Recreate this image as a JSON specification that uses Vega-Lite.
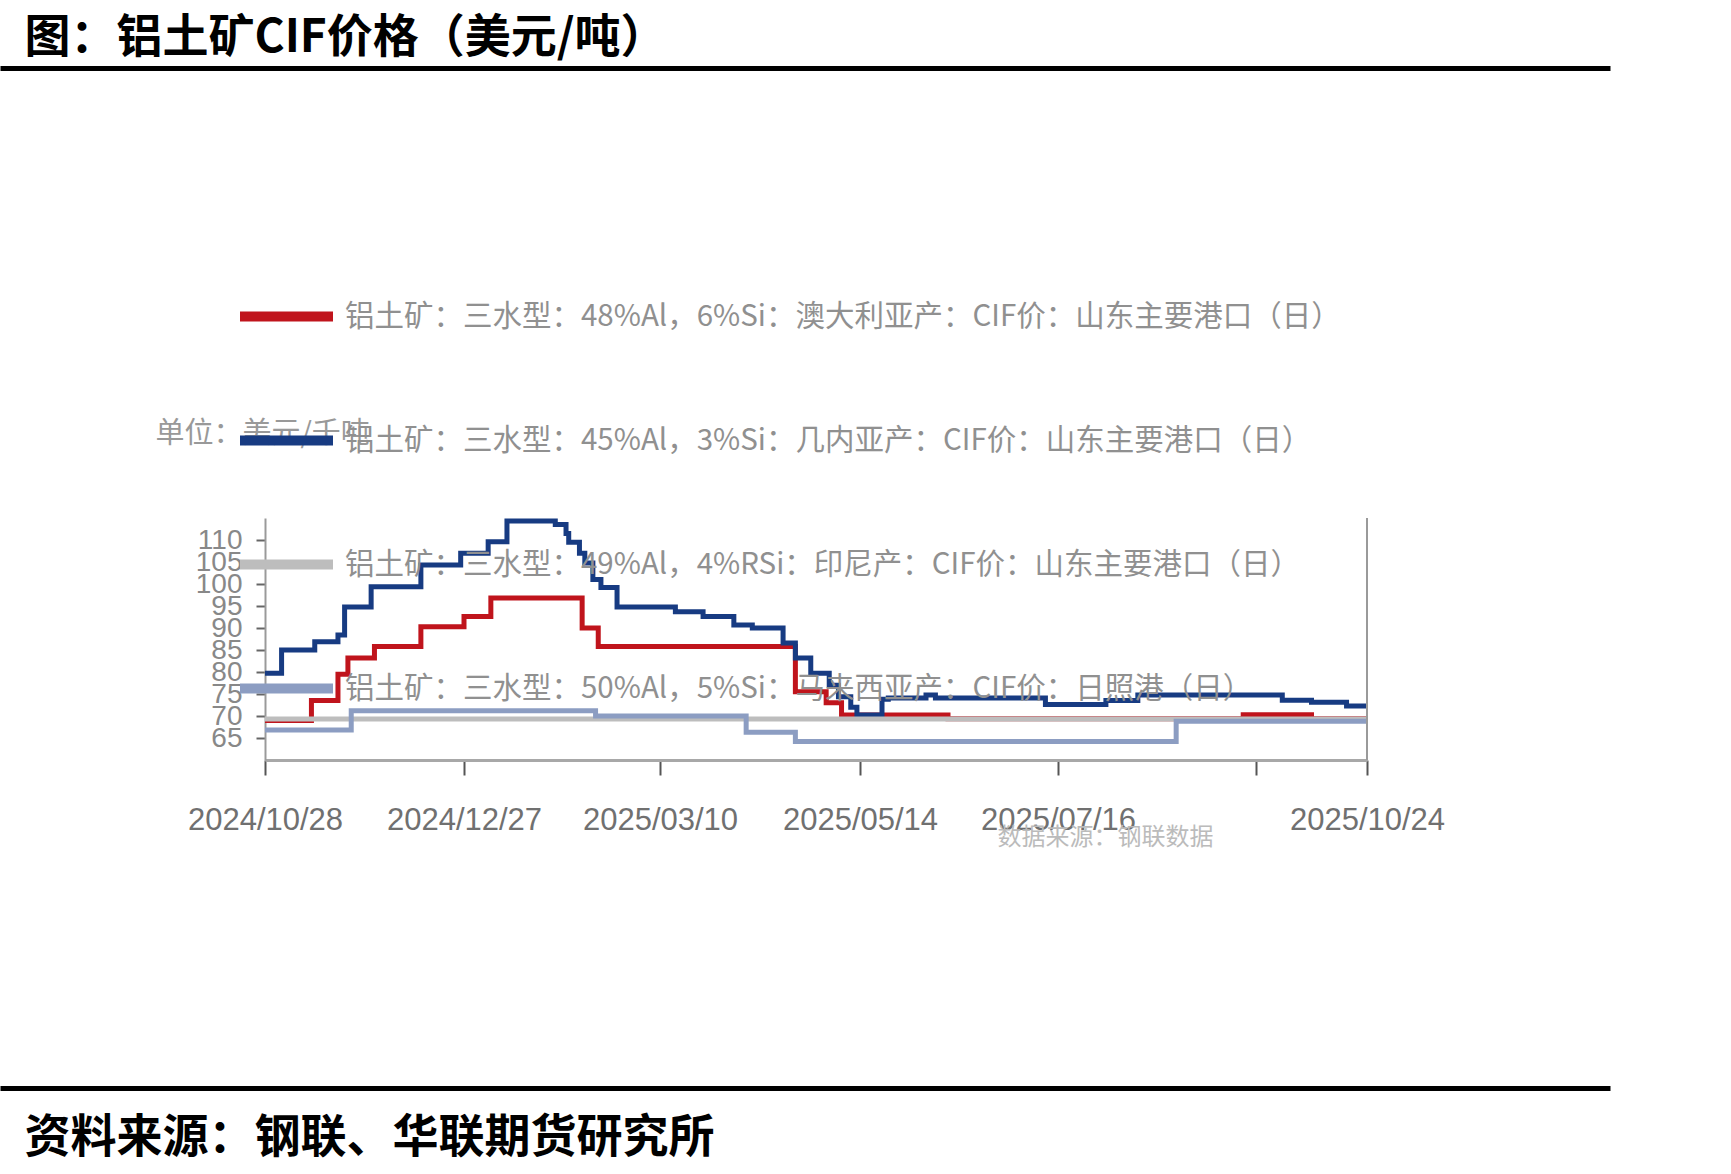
{
  "$schema": "https://vega.github.io/schema/vega-lite/v6.json",
  "autosize": {"type": "none"},
  "padding": {"left": 265, "top": 518, "right": 364, "bottom": 414},
  "width": 1102,
  "height": 242,
  "background": "white",
  "config": {"view": {"stroke": null}, "font": "Noto Sans CJK SC"},
  "resolve": {"scale": {"x": "independent"}, "axis": {"x": "independent", "y": "independent"}},
  "layer": [
    {
      "data": {"values": [
        {"series": "铝土矿：三水型：48%Al，6%Si：澳大利亚产：CIF价：山东主要港口（日）", "date": "2024-10-28", "price": 69.0},
        {"series": "铝土矿：三水型：48%Al，6%Si：澳大利亚产：CIF价：山东主要港口（日）", "date": "2024-11-11", "price": 73.5},
        {"series": "铝土矿：三水型：48%Al，6%Si：澳大利亚产：CIF价：山东主要港口（日）", "date": "2024-11-19", "price": 79.5},
        {"series": "铝土矿：三水型：48%Al，6%Si：澳大利亚产：CIF价：山东主要港口（日）", "date": "2024-11-22", "price": 83.2},
        {"series": "铝土矿：三水型：48%Al，6%Si：澳大利亚产：CIF价：山东主要港口（日）", "date": "2024-11-30", "price": 85.8},
        {"series": "铝土矿：三水型：48%Al，6%Si：澳大利亚产：CIF价：山东主要港口（日）", "date": "2024-12-14", "price": 90.3},
        {"series": "铝土矿：三水型：48%Al，6%Si：澳大利亚产：CIF价：山东主要港口（日）", "date": "2024-12-27", "price": 92.6},
        {"series": "铝土矿：三水型：48%Al，6%Si：澳大利亚产：CIF价：山东主要港口（日）", "date": "2025-01-06", "price": 96.8},
        {"series": "铝土矿：三水型：48%Al，6%Si：澳大利亚产：CIF价：山东主要港口（日）", "date": "2025-02-09", "price": 90.0},
        {"series": "铝土矿：三水型：48%Al，6%Si：澳大利亚产：CIF价：山东主要港口（日）", "date": "2025-02-15", "price": 85.8},
        {"series": "铝土矿：三水型：48%Al，6%Si：澳大利亚产：CIF价：山东主要港口（日）", "date": "2025-04-23", "price": 75.5},
        {"series": "铝土矿：三水型：48%Al，6%Si：澳大利亚产：CIF价：山东主要港口（日）", "date": "2025-05-03", "price": 73.0},
        {"series": "铝土矿：三水型：48%Al，6%Si：澳大利亚产：CIF价：山东主要港口（日）", "date": "2025-05-08", "price": 70.2},
        {"series": "铝土矿：三水型：48%Al，6%Si：澳大利亚产：CIF价：山东主要港口（日）", "date": "2025-06-11", "price": 69.4},
        {"series": "铝土矿：三水型：48%Al，6%Si：澳大利亚产：CIF价：山东主要港口（日）", "date": "2025-09-12", "price": 70.3},
        {"series": "铝土矿：三水型：48%Al，6%Si：澳大利亚产：CIF价：山东主要港口（日）", "date": "2025-10-05", "price": 69.4},
        {"series": "铝土矿：三水型：48%Al，6%Si：澳大利亚产：CIF价：山东主要港口（日）", "date": "2025-10-24", "price": 69.4},

        {"series": "铝土矿：三水型：45%Al，3%Si：几内亚产：CIF价：山东主要港口（日）", "date": "2024-10-28", "price": 79.7},
        {"series": "铝土矿：三水型：45%Al，3%Si：几内亚产：CIF价：山东主要港口（日）", "date": "2024-11-02", "price": 85.0},
        {"series": "铝土矿：三水型：45%Al，3%Si：几内亚产：CIF价：山东主要港口（日）", "date": "2024-11-12", "price": 86.9},
        {"series": "铝土矿：三水型：45%Al，3%Si：几内亚产：CIF价：山东主要港口（日）", "date": "2024-11-19", "price": 88.4},
        {"series": "铝土矿：三水型：45%Al，3%Si：几内亚产：CIF价：山东主要港口（日）", "date": "2024-11-21", "price": 94.8},
        {"series": "铝土矿：三水型：45%Al，3%Si：几内亚产：CIF价：山东主要港口（日）", "date": "2024-11-29", "price": 99.4},
        {"series": "铝土矿：三水型：45%Al，3%Si：几内亚产：CIF价：山东主要港口（日）", "date": "2024-12-14", "price": 104.3},
        {"series": "铝土矿：三水型：45%Al，3%Si：几内亚产：CIF价：山东主要港口（日）", "date": "2024-12-26", "price": 107.0},
        {"series": "铝土矿：三水型：45%Al，3%Si：几内亚产：CIF价：山东主要港口（日）", "date": "2025-01-05", "price": 109.6},
        {"series": "铝土矿：三水型：45%Al，3%Si：几内亚产：CIF价：山东主要港口（日）", "date": "2025-01-12", "price": 114.3},
        {"series": "铝土矿：三水型：45%Al，3%Si：几内亚产：CIF价：山东主要港口（日）", "date": "2025-01-30", "price": 113.5},
        {"series": "铝土矿：三水型：45%Al，3%Si：几内亚产：CIF价：山东主要港口（日）", "date": "2025-02-03", "price": 111.5},
        {"series": "铝土矿：三水型：45%Al，3%Si：几内亚产：CIF价：山东主要港口（日）", "date": "2025-02-04", "price": 109.5},
        {"series": "铝土矿：三水型：45%Al，3%Si：几内亚产：CIF价：山东主要港口（日）", "date": "2025-02-08", "price": 107.0},
        {"series": "铝土矿：三水型：45%Al，3%Si：几内亚产：CIF价：山东主要港口（日）", "date": "2025-02-10", "price": 104.8},
        {"series": "铝土矿：三水型：45%Al，3%Si：几内亚产：CIF价：山东主要港口（日）", "date": "2025-02-13", "price": 101.0},
        {"series": "铝土矿：三水型：45%Al，3%Si：几内亚产：CIF价：山东主要港口（日）", "date": "2025-02-16", "price": 99.2},
        {"series": "铝土矿：三水型：45%Al，3%Si：几内亚产：CIF价：山东主要港口（日）", "date": "2025-02-22", "price": 94.8},
        {"series": "铝土矿：三水型：45%Al，3%Si：几内亚产：CIF价：山东主要港口（日）", "date": "2025-03-15", "price": 93.7},
        {"series": "铝土矿：三水型：45%Al，3%Si：几内亚产：CIF价：山东主要港口（日）", "date": "2025-03-24", "price": 92.6},
        {"series": "铝土矿：三水型：45%Al，3%Si：几内亚产：CIF价：山东主要港口（日）", "date": "2025-04-03", "price": 90.7},
        {"series": "铝土矿：三水型：45%Al，3%Si：几内亚产：CIF价：山东主要港口（日）", "date": "2025-04-09", "price": 90.0},
        {"series": "铝土矿：三水型：45%Al，3%Si：几内亚产：CIF价：山东主要港口（日）", "date": "2025-04-19", "price": 86.6},
        {"series": "铝土矿：三水型：45%Al，3%Si：几内亚产：CIF价：山东主要港口（日）", "date": "2025-04-23", "price": 83.2},
        {"series": "铝土矿：三水型：45%Al，3%Si：几内亚产：CIF价：山东主要港口（日）", "date": "2025-04-28", "price": 79.7},
        {"series": "铝土矿：三水型：45%Al，3%Si：几内亚产：CIF价：山东主要港口（日）", "date": "2025-05-04", "price": 77.0},
        {"series": "铝土矿：三水型：45%Al，3%Si：几内亚产：CIF价：山东主要港口（日）", "date": "2025-05-07", "price": 74.4},
        {"series": "铝土矿：三水型：45%Al，3%Si：几内亚产：CIF价：山东主要港口（日）", "date": "2025-05-11", "price": 72.0},
        {"series": "铝土矿：三水型：45%Al，3%Si：几内亚产：CIF价：山东主要港口（日）", "date": "2025-05-13", "price": 70.2},
        {"series": "铝土矿：三水型：45%Al，3%Si：几内亚产：CIF价：山东主要港口（日）", "date": "2025-05-21", "price": 73.8},
        {"series": "铝土矿：三水型：45%Al，3%Si：几内亚产：CIF价：山东主要港口（日）", "date": "2025-05-23", "price": 74.1},
        {"series": "铝土矿：三水型：45%Al，3%Si：几内亚产：CIF价：山东主要港口（日）", "date": "2025-06-04", "price": 74.8},
        {"series": "铝土矿：三水型：45%Al，3%Si：几内亚产：CIF价：山东主要港口（日）", "date": "2025-06-07", "price": 74.1},
        {"series": "铝土矿：三水型：45%Al，3%Si：几内亚产：CIF价：山东主要港口（日）", "date": "2025-07-12", "price": 72.6},
        {"series": "铝土矿：三水型：45%Al，3%Si：几内亚产：CIF价：山东主要港口（日）", "date": "2025-07-31", "price": 73.5},
        {"series": "铝土矿：三水型：45%Al，3%Si：几内亚产：CIF价：山东主要港口（日）", "date": "2025-08-10", "price": 74.8},
        {"series": "铝土矿：三水型：45%Al，3%Si：几内亚产：CIF价：山东主要港口（日）", "date": "2025-09-25", "price": 73.6},
        {"series": "铝土矿：三水型：45%Al，3%Si：几内亚产：CIF价：山东主要港口（日）", "date": "2025-10-05", "price": 73.1},
        {"series": "铝土矿：三水型：45%Al，3%Si：几内亚产：CIF价：山东主要港口（日）", "date": "2025-10-17", "price": 72.3},
        {"series": "铝土矿：三水型：45%Al，3%Si：几内亚产：CIF价：山东主要港口（日）", "date": "2025-10-24", "price": 72.3},

        {"series": "铝土矿：三水型：49%Al，4%RSi：印尼产：CIF价：山东主要港口（日）", "date": "2024-10-28", "price": 69.3},
        {"series": "铝土矿：三水型：49%Al，4%RSi：印尼产：CIF价：山东主要港口（日）", "date": "2025-10-24", "price": 69.3},

        {"series": "铝土矿：三水型：50%Al，5%Si：马来西亚产：CIF价：日照港（日）", "date": "2024-10-28", "price": 66.8},
        {"series": "铝土矿：三水型：50%Al，5%Si：马来西亚产：CIF价：日照港（日）", "date": "2024-11-23", "price": 71.2},
        {"series": "铝土矿：三水型：50%Al，5%Si：马来西亚产：CIF价：日照港（日）", "date": "2025-02-14", "price": 70.0},
        {"series": "铝土矿：三水型：50%Al，5%Si：马来西亚产：CIF价：日照港（日）", "date": "2025-04-07", "price": 66.3},
        {"series": "铝土矿：三水型：50%Al，5%Si：马来西亚产：CIF价：日照港（日）", "date": "2025-04-23", "price": 64.2},
        {"series": "铝土矿：三水型：50%Al，5%Si：马来西亚产：CIF价：日照港（日）", "date": "2025-08-22", "price": 68.8},
        {"series": "铝土矿：三水型：50%Al，5%Si：马来西亚产：CIF价：日照港（日）", "date": "2025-10-24", "price": 68.8}
      ]},
      "mark": {"type": "line", "interpolate": "step-after", "strokeWidth": 5},
      "encoding": {
        "x": {
          "field": "date", "type": "temporal",
          "scale": {
            "type": "utc",
            "domainRaw": {"expr": "[utc(2024,9,28), utc(2024,11,27), utc(2025,2,10), utc(2025,4,14), utc(2025,6,16), utc(2025,8,16), utc(2025,9,24)]"},
            "range": [0, 199, 395, 595, 793, 991, 1102]
          },
          "axis": {
            "orient": "bottom",
            "values": [
              {"year": 2024, "month": 10, "date": 28, "utc": true},
              {"year": 2024, "month": 12, "date": 27, "utc": true},
              {"year": 2025, "month": 3, "date": 10, "utc": true},
              {"year": 2025, "month": 5, "date": 14, "utc": true},
              {"year": 2025, "month": 7, "date": 16, "utc": true},
              {"year": 2025, "month": 9, "date": 16, "utc": true},
              {"year": 2025, "month": 10, "date": 24, "utc": true}
            ],
            "format": "%Y/%m/%d",
            "labelExpr": "datum.label == '2025/09/16' ? '' : datum.label",
            "grid": false,
            "domainColor": "#a8a8a8", "domainWidth": 3,
            "tickColor": "#555555", "tickSize": 15, "tickWidth": 2,
            "labelFont": "Liberation Sans",
            "labelFontSize": 31, "labelColor": "#707070", "labelLimit": 0,
            "labelBaseline": "middle", "labelPadding": 45,
            "labelOverlap": false, "labelFlush": false,
            "title": "数据来源：钢联数据",
            "titleX": 840, "titleY": 77, "titleAlign": "center", "titleBaseline": "middle", "titleAngle": 0,
            "titleFontSize": 24, "titleColor": "#bbbbbb", "titleFontWeight": "normal", "titleFont": "Noto Sans CJK SC"
          }
        },
        "y": {
          "field": "price", "type": "quantitative",
          "scale": {"domain": [60, 115], "nice": false, "zero": false},
          "axis": {
            "orient": "left",
            "values": [65, 70, 75, 80, 85, 90, 95, 100, 105, 110],
            "grid": false,
            "domainColor": "#9a9a9a", "domainWidth": 2,
            "tickColor": "#666666", "tickSize": 9, "tickWidth": 2,
            "labelFont": "Liberation Sans",
            "labelFontSize": 28, "labelColor": "#888888", "labelPadding": 14, "labelOverlap": false,
            "title": "单位：美元/千吨",
            "titleX": -110, "titleY": -85, "titleAlign": "left", "titleBaseline": "middle", "titleAngle": 0,
            "titleFontSize": 29, "titleColor": "#999999", "titleFontWeight": "normal", "titleFont": "Noto Sans CJK SC"
          }
        },
        "color": {
          "field": "series", "type": "nominal",
          "scale": {
            "domain": [
              "铝土矿：三水型：48%Al，6%Si：澳大利亚产：CIF价：山东主要港口（日）",
              "铝土矿：三水型：45%Al，3%Si：几内亚产：CIF价：山东主要港口（日）",
              "铝土矿：三水型：49%Al，4%RSi：印尼产：CIF价：山东主要港口（日）",
              "铝土矿：三水型：50%Al，5%Si：马来西亚产：CIF价：日照港（日）"
            ],
            "range": ["#C0141C", "#173B82", "#BDBDBD", "#8C9DC2"]
          },
          "legend": {
            "orient": "none", "legendX": -30, "legendY": -253, "direction": "vertical",
            "title": null, "padding": 0,
            "symbolType": "stroke", "symbolSize": 8649, "symbolStrokeWidth": 10,
            "labelFont": "Noto Sans CJK SC", "labelFontSize": 29.5, "labelColor": "#909090",
            "labelLimit": 1400, "labelOffset": 7, "rowPadding": 52
          }
        }
      }
    },
    {
      "data": {"values": [{}]},
      "mark": {"type": "rule", "color": "#9a9a9a", "strokeWidth": 2},
      "encoding": {
        "x": {
          "datum": {"year": 2025, "month": 10, "date": 24, "utc": true}, "type": "temporal",
          "scale": {
            "type": "utc",
            "domainRaw": {"expr": "[utc(2024,9,28), utc(2024,11,27), utc(2025,2,10), utc(2025,4,14), utc(2025,6,16), utc(2025,8,16), utc(2025,9,24)]"},
            "range": [0, 199, 395, 595, 793, 991, 1102]
          },
          "axis": null
        },
        "y": {"datum": 60, "type": "quantitative", "axis": null},
        "y2": {"datum": 115}
      }
    },
    {
      "data": {"values": [{}]},
      "mark": {"type": "rule", "opacity": 0},
      "encoding": {
        "x": {
          "datum": 0, "type": "quantitative",
          "scale": {"domain": [0, 1], "range": [-265, 1345], "nice": false, "zero": false},
          "axis": {
            "orient": "top", "offset": 450,
            "domain": true, "domainColor": "#000000", "domainWidth": 5,
            "ticks": false, "labels": false, "grid": false,
            "title": "图：铝土矿CIF价格（美元/吨）",
            "titleX": -241, "titleY": -31, "titleAlign": "left", "titleBaseline": "middle", "titleAngle": 0,
            "titleFontSize": 46, "titleFontWeight": "bold", "titleColor": "#000000", "titleFont": "Noto Sans CJK SC"
          }
        }
      }
    },
    {
      "data": {"values": [{}]},
      "mark": {"type": "rule", "opacity": 0},
      "encoding": {
        "x": {
          "datum": 0, "type": "quantitative",
          "scale": {"domain": [0, 1], "range": [-265, 1345], "nice": false, "zero": false},
          "axis": {
            "orient": "bottom", "offset": 328,
            "domain": true, "domainColor": "#000000", "domainWidth": 5,
            "ticks": false, "labels": false, "grid": false,
            "title": "资料来源：钢联、华联期货研究所",
            "titleX": -241, "titleY": 49, "titleAlign": "left", "titleBaseline": "middle", "titleAngle": 0,
            "titleFontSize": 46, "titleFontWeight": "bold", "titleColor": "#000000", "titleFont": "Noto Sans CJK SC"
          }
        }
      }
    }
  ]
}
